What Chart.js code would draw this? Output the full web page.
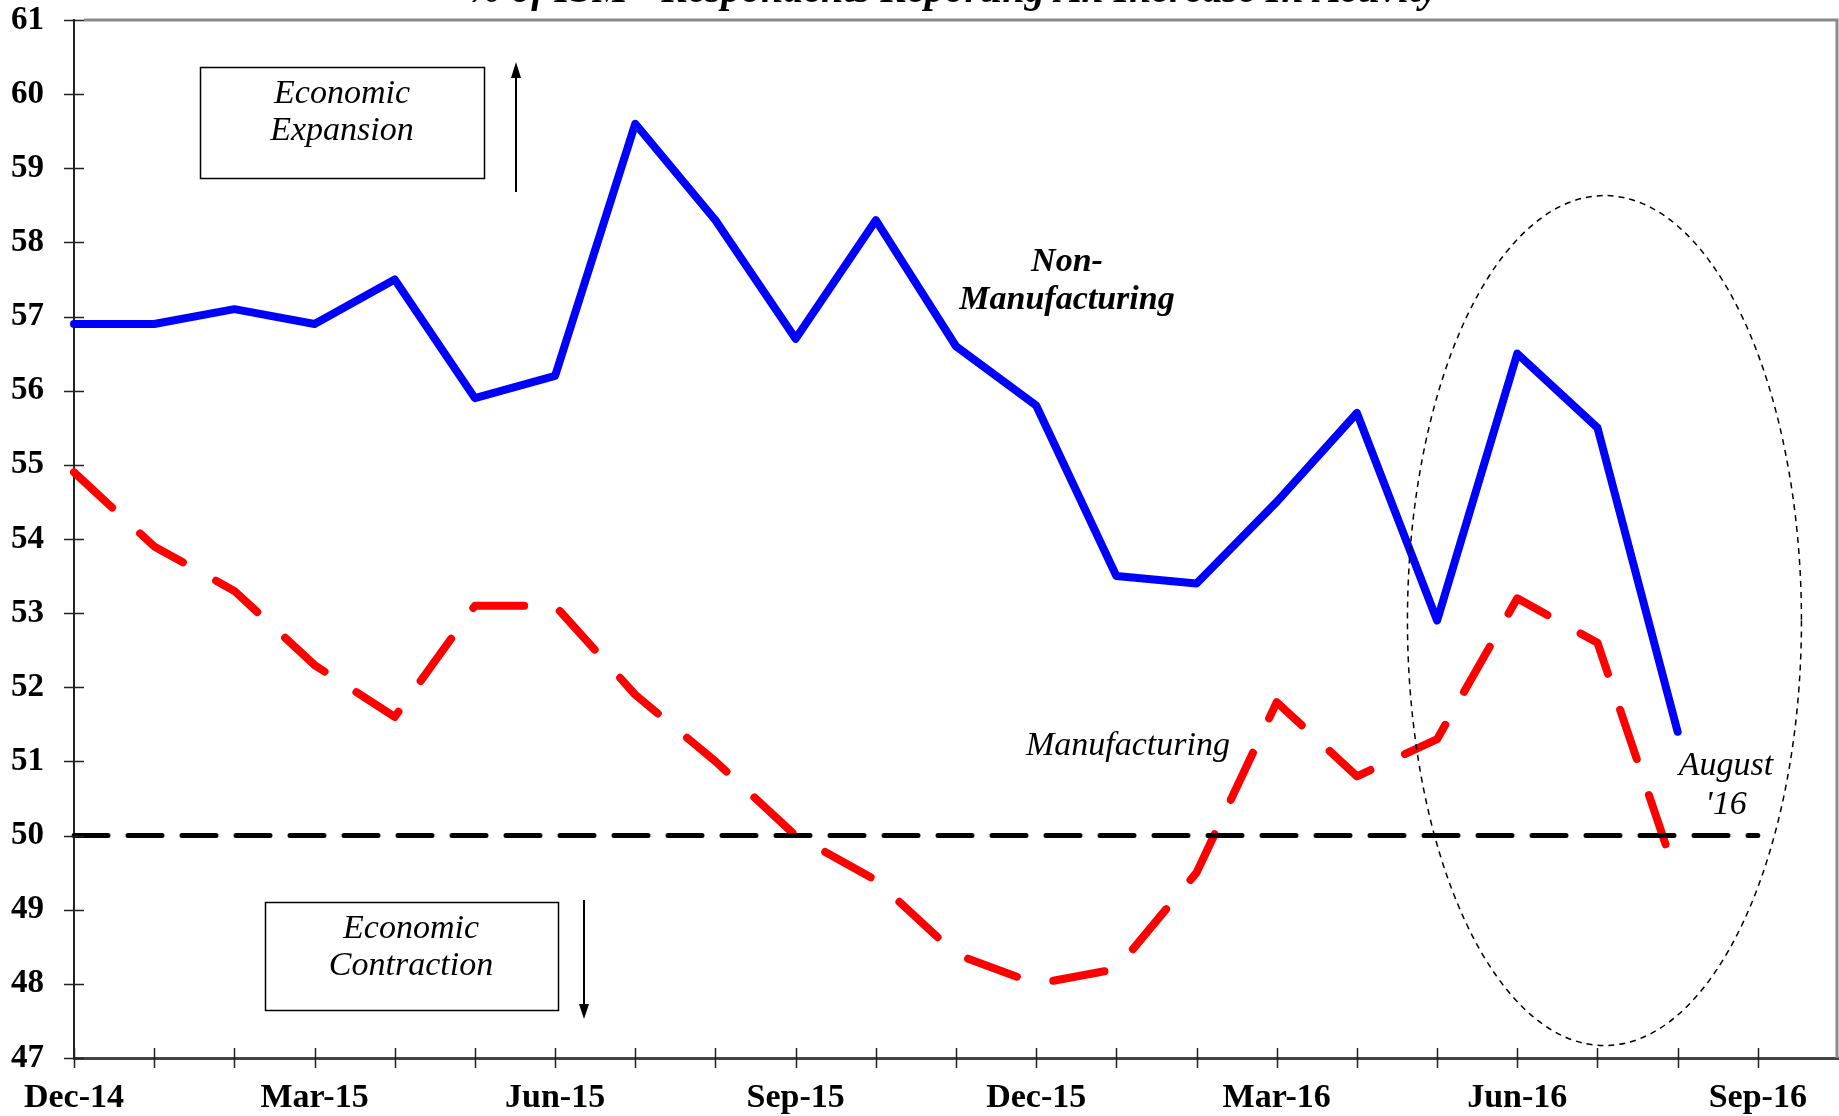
<!DOCTYPE html>
<html>
<head>
<meta charset="utf-8">
<script src="https://cdn.jsdelivr.net/npm/chart.js@4.4.0/dist/chart.umd.min.js"></script>
<style>
  html, body { margin: 0; padding: 0; background: #fff; }
  #wrap { width: 1839px; height: 1116px; }
</style>
</head>
<body>
<div id="wrap"><canvas id="ism"></canvas></div>
<script>
// monthly categories, Dec-14 .. Oct-16 (last one only extends the axis)
var months = ['Dec-14','Jan-15','Feb-15','Mar-15','Apr-15','May-15','Jun-15','Jul-15','Aug-15',
              'Sep-15','Oct-15','Nov-15','Dec-15','Jan-16','Feb-16','Mar-16','Apr-16','May-16',
              'Jun-16','Jul-16','Aug-16','Sep-16','Oct-16'];

var nonManufacturing = [56.9, 56.9, 57.1, 56.9, 57.5, 55.9, 56.2, 59.6, 58.3, 56.7, 58.3, 56.6,
                        55.8, 53.5, 53.4, 54.5, 55.7, 52.9, 56.5, 55.5, 51.4];

var manufacturing = [54.9, 53.9, 53.3, 52.3, 51.6, 53.1, 53.1, 51.9, 51.0, 50.0, 49.4, 48.4,
                     48.0, 48.2, 49.5, 51.8, 50.8, 51.3, 53.2, 52.6, 49.4];

var breakEven = [50, 50, 50, 50, 50, 50, 50, 50, 50, 50, 50, 50,
                 50, 50, 50, 50, 50, 50, 50, 50, 50, 50, null];

var yMin = 47, yMax = 61;

var serif = '"Liberation Serif", "Times New Roman", serif';

// everything that is not a data line: ticks across axes, frame, boxes, labels, ellipse
var extras = {
    id: 'extras',
    afterDraw: function(chart) {
        var ctx = chart.ctx;
        var area = chart.chartArea;
        var xs = chart.scales.x, ys = chart.scales.y;
        ctx.save();

        // gray frame top and right
        ctx.strokeStyle = '#8a8a8a';
        ctx.lineWidth = 3;
        ctx.beginPath();
        ctx.moveTo(area.left + 10, area.top);
        ctx.lineTo(area.right - 1, area.top);
        ctx.lineTo(area.right - 1, area.bottom);
        ctx.stroke();

        // tick marks that cross the axes
        ctx.strokeStyle = '#222';
        ctx.lineWidth = 1.5;
        ctx.beginPath();
        for (var i = 0; i < ys.ticks.length; i++) {
            var py = Math.round(ys.getPixelForValue(ys.ticks[i].value)) + 0.5;
            ctx.moveTo(area.left - 10, py);
            ctx.lineTo(area.left + 10, py);
        }
        for (var j = 0; j < months.length - 1; j++) {
            var px = Math.round(xs.getPixelForValue(j)) + 0.5;
            ctx.moveTo(px, area.bottom - 10);
            ctx.lineTo(px, area.bottom + 10);
        }
        ctx.stroke();

        // ellipse round the latest months
        ctx.strokeStyle = '#000';
        ctx.lineWidth = 1.5;
        ctx.setLineDash([6, 5]);
        ctx.beginPath();
        ctx.ellipse(xs.getPixelForValue(19) + 7, ys.getPixelForValue(52.9), 197, 425, 0, 0, Math.PI * 2);
        ctx.stroke();
        ctx.setLineDash([]);

        // boxes
        ctx.lineWidth = 1.5;
        ctx.strokeRect(200.5, 67.5, 284, 111);
        ctx.strokeRect(265.5, 902.5, 293, 108);

        // arrows
        ctx.lineWidth = 2;
        ctx.beginPath();
        ctx.moveTo(516, 192); ctx.lineTo(516, 76);
        ctx.moveTo(584, 900); ctx.lineTo(584, 1006);
        ctx.stroke();
        ctx.fillStyle = '#000';
        ctx.beginPath();
        ctx.moveTo(516, 62); ctx.lineTo(511, 78); ctx.lineTo(521, 78); ctx.closePath();
        ctx.moveTo(584, 1019); ctx.lineTo(579, 1004); ctx.lineTo(589, 1004); ctx.closePath();
        ctx.fill();

        // texts
        ctx.fillStyle = '#000';
        ctx.textAlign = 'center';
        ctx.textBaseline = 'middle';
        ctx.font = 'italic 34px ' + serif;
        ctx.fillText('Economic', 342, 94);
        ctx.fillText('Expansion', 342, 131);
        ctx.fillText('Economic', 411, 929);
        ctx.fillText('Contraction', 411, 966);
        ctx.fillText('Manufacturing', 1128, 746);
        ctx.fillText('August', 1726, 766);
        ctx.fillText("'16", 1726, 805);
        ctx.font = 'italic bold 34px ' + serif;
        ctx.fillText('Non-', 1067, 262);
        ctx.fillText('Manufacturing', 1067, 300);

        // title, mostly cut off at the top of the picture
        ctx.textBaseline = 'alphabetic';
        ctx.font = 'italic bold 40px ' + serif;
        ctx.fillText('% of ISM - Respondents Reporting An Increase In Activity', 953, 2);

        ctx.restore();
    }
};

new Chart(document.getElementById('ism'), {
    type: 'line',
    data: {
        labels: months,
        datasets: [{
            label: 'Non-Manufacturing',
            data: nonManufacturing,
            borderColor: '#0000ff',
            borderWidth: 8,
            borderCapStyle: 'round',
            borderJoinStyle: 'round',
            pointRadius: 0,
            tension: 0,
            fill: false
        }, {
            label: '50',
            data: breakEven,
            borderColor: '#000000',
            borderWidth: 5,
            borderDash: [34, 20],
            borderCapStyle: 'round',
            pointRadius: 0,
            fill: false
        }, {
            label: 'Manufacturing',
            data: manufacturing,
            borderColor: '#ff0000',
            borderWidth: 8,
            borderDash: [52, 38],
            borderCapStyle: 'round',
            borderJoinStyle: 'round',
            pointRadius: 0,
            tension: 0,
            fill: false
        }]
    },
    options: {
        responsive: true,
        maintainAspectRatio: false,
        animation: false,
        events: [],
        layout: { padding: { top: 20, right: 1, left: 0, bottom: 0 } },
        plugins: {
            legend: { display: false },
            tooltip: { enabled: false },
            title: { display: false }
        },
        scales: {
            x: {
                offset: false,
                grid: { display: false, drawTicks: false },
                border: { display: true, color: '#444', width: 3 },
                afterFit: function(scale) {
                    scale.height = 58;
                    scale.paddingLeft = 0;
                    scale.paddingRight = 0;
                },
                ticks: {
                    autoSkip: false,
                    maxRotation: 0,
                    padding: 20,
                    color: '#000',
                    font: { family: serif, size: 34, weight: 'bold' },
                    callback: function(val, idx) {
                        return idx % 3 === 0 && idx < months.length - 1 ? months[idx] : '';
                    }
                }
            },
            y: {
                min: yMin,
                max: yMax,
                grid: { display: false, drawTicks: false },
                border: { display: true, color: '#222', width: 2 },
                afterFit: function(scale) {
                    scale.width = 74;
                    scale.paddingTop = 0;
                    scale.paddingBottom = 0;
                },
                ticks: {
                    stepSize: 1,
                    padding: 30,
                    color: '#000',
                    font: { family: serif, size: 33, weight: 'bold' }
                }
            }
        }
    },
    plugins: [extras]
});
</script>
</body>
</html>
